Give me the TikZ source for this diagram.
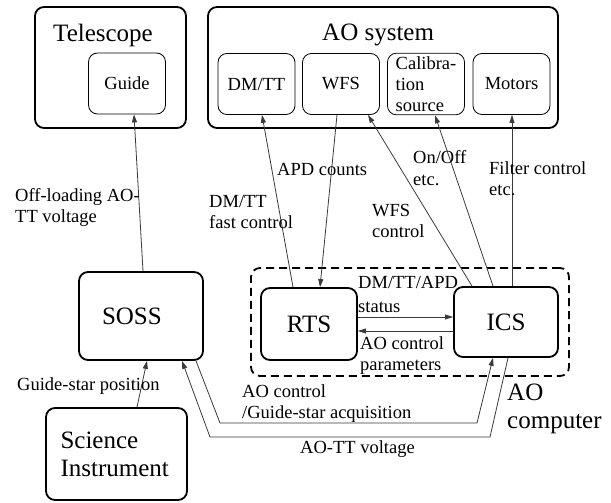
\documentclass[tikz,border=0pt]{standalone}
\usepackage{fontspec}
\setmainfont{Liberation Serif}
\usetikzlibrary{arrows.meta,positioning}
\definecolor{tinta}{HTML}{000000}
\definecolor{linea}{HTML}{3A3A3A}

\begin{document}
\begin{tikzpicture}[x=1pt,y=-1pt,
    marco/.style={draw=tinta,line width=1.8pt,rounded corners=9pt},
    caja/.style={draw=tinta,line width=0.8pt,rounded corners=9pt,minimum width=77pt,
                 minimum height=61pt,align=center,font=\fontsize{18.5}{21}\selectfont},
    grande/.style={font=\fontsize{25}{28}\selectfont},
    titulo/.style={grande,anchor=base west,align=left,inner sep=0pt},
    etiq/.style={anchor=base west,align=left,inner sep=0pt,font=\fontsize{18.5}{21}\selectfont},
    flecha/.style={draw=linea,line width=0.8pt,-{Triangle[length=8pt,width=5pt]}}]
  \useasboundingbox (0,0) rectangle (611,503);

  % telescope and AO system
  \node[marco,minimum width=151pt,minimum height=121pt] (telescopio) at (110.5,67.5) {};
  \node[titulo] (telescopioTxt) at (53,42) {Telescope};
  \node[caja] (guia) at (127,83.5) {Guide};

  \node[marco,minimum width=350pt,minimum height=121pt] (aosis) at (383,67.5) {};
  \node[titulo] (aosisTxt) at (322,41) {AO system};
  \node[caja] (dmtt) at (256.5,84) {DM/TT};
  \node[caja] (wfs) at (341,84) {WFS};
  \node[caja,align=left] (calib) at (426,84) {Calibra-\\tion\\source};
  \node[caja] (motores) at (511.5,84) {Motors};

  % AO computer
  \node[marco,dashed,dash pattern=on 8pt off 5pt,minimum width=318pt,
        minimum height=108pt] (aocomp) at (410,322) {};
  \node[titulo] (aocompTxt) at (507,428) {AO\\computer};
  \node[marco,grande,minimum width=96pt,minimum height=72pt] (rts) at (309,324) {RTS};
  \node[marco,grande,minimum width=104pt,minimum height=70pt] (ics) at (506,322) {ICS};

  \node[marco,grande,minimum width=124pt,minimum height=88pt,text width=78pt,
        inner xsep=23pt,align=left] (soss) at (141,316) {SOSS};
  \node[marco,grande,minimum width=141pt,minimum height=92pt,text width=112pt,
        inner xsep=14.5pt,align=left] (ciencia) at (116.5,454) {Science\\Instrument};

  % connectors
  \draw[flecha] ([xshift=2pt]soss.north) -- ([xshift=7pt]guia.south);
  \draw[flecha] ([xshift=-16pt]rts.north) -- ([xshift=5.5pt]dmtt.south);
  \draw[flecha] ([xshift=-4pt]wfs.south) -- ([xshift=11pt]rts.north);
  \draw[flecha] ([xshift=-34pt]ics.north) -- ([xshift=27pt]wfs.south);
  \draw[flecha] ([xshift=-13pt]ics.north) -- ([xshift=9pt]calib.south);
  \draw[flecha] ([xshift=6pt]ics.north) -- ([xshift=6pt]ics.north |- motores.south);
  \draw[flecha] ([yshift=7pt]rts.east) -- ([yshift=7pt]rts.east -| ics.west);
  \draw[flecha] ([yshift=-9pt]ics.west) -- ([yshift=-9pt]ics.west -| rts.east);
  \draw[flecha] ([xshift=55pt]soss.south) -- (220,423) -- (477,423) -- ([xshift=-13pt]ics.south);
  \draw[flecha] ([xshift=2pt]ics.south) -- (490,437) -- (210,437) -- ([xshift=41pt]soss.south);
  \draw[flecha] ([xshift=20.5pt]ciencia.north) -- ([xshift=6pt]soss.south);

  % labels
  \node[etiq] (offload) at (15,222) {Off-loading AO-\\TT voltage};
  \node[etiq] (dmttTxt) at (209,228) {DM/TT\\fast control};
  \node[etiq] (apd) at (277,175) {APD counts};
  \node[etiq] (onoff) at (413,185) {On/Off\\etc.};
  \node[etiq] (filtro) at (489,195) {Filter control\\etc.};
  \node[etiq] (wfsTxt) at (372,237) {WFS\\control};
  \node[etiq] (estado) at (358,312) {DM/TT/APD\\[3pt]status};
  \node[etiq] (param) at (360,370) {AO control\\parameters};
  \node[etiq] (adq) at (242,418) {AO control\\/Guide-star acquisition};
  \node[etiq] (volt) at (300,453) {AO-TT voltage};
  \node[etiq] (posicion) at (17,390) {Guide-star position};
\end{tikzpicture}
\end{document}
